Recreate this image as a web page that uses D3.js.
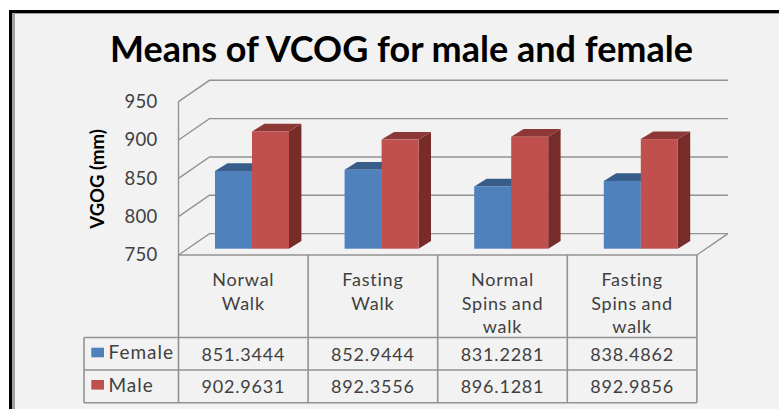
<!DOCTYPE html>
<html><head><meta charset="utf-8">
<script src="https://cdn.jsdelivr.net/npm/d3@7"></script>
<style>html,body{margin:0;padding:0;background:#fff}svg{display:block}text{font-family:Lato,sans-serif}</style>
</head><body><svg id="c" width="779" height="409"></svg>
<script>
const categories = [["Norwal","Walk"],["Fasting","Walk"],["Normal","Spins and","walk"],["Fasting","Spins and","walk"]];
const seriesNames = ["Female","Male"];
const female = [851.3444,852.9444,831.2281,838.4862];
const male = [902.9631,892.3556,896.1281,892.9856];
const yTicks = [750,800,850,900,950];
const frontColors = ["#4f81bd","#c0504d"];
const topColors = ["#385d8a","#8c3836"];
const sideColors = ["#2f4f75","#772c2a"];
const series = [female, male];

const svg = d3.select("#c");
const W=779,H=409, grid="#929292", txt="#404040";
// frame
svg.append("rect").attr("x",9).attr("y",10).attr("width",W-9).attr("height",H-10).attr("fill","#000");
svg.append("rect").attr("x",12).attr("y",13).attr("width",W-12).attr("height",H-13).attr("fill","#a0a0a0");
svg.append("rect").attr("x",15).attr("y",14).attr("width",W-15).attr("height",H-14).attr("fill","#f2f2f2");

const idx = d3.range(categories.length);
const x0 = d3.scaleBand().domain(idx).range([178.5,696.9]);
const x1 = d3.scaleBand().domain(d3.range(seriesNames.length)).range([36.5,110.5]);
const y = d3.scaleLinear().domain([750,950]).range([255,101.7]);
const wall = {dx:31,dy:-21.4}, barD = {dx:12.4,dy:-7.7}, barOff = {dx:0,dy:-6.3};
const gridRight = x0.range()[1]+wall.dx;

// gridlines
const g = svg.append("g").attr("fill","none").attr("stroke",grid).attr("stroke-width",1.4);
yTicks.forEach(t=>{
  g.append("path").attr("d",d3.line()([[x0.range()[0],y(t)],[x0.range()[0]+wall.dx,y(t)+wall.dy],[gridRight,y(t)+wall.dy]]));
});
g.append("path").attr("d",d3.line()([[x0.range()[1],y(750)],[gridRight,y(750)+wall.dy]]));
g.append("path").attr("d",d3.line()([[x0.range()[0],y(950)],[x0.range()[0],y(750)]]));

// bars
const bars = svg.append("g");
idx.forEach(i=>{
  series.forEach((s,k)=>{
    const l=x0(i)+x1(k), r=l+x1.bandwidth(), t=y(s[i])+barOff.dy, b=y(750)+barOff.dy;
    bars.append("path").attr("fill",sideColors[k]).attr("d",d3.line()([[r,t],[r+barD.dx,t+barD.dy],[r+barD.dx,b+barD.dy],[r,b]])+"Z");
    bars.append("path").attr("fill",topColors[k]).attr("d",d3.line()([[l,t],[l+barD.dx,t+barD.dy],[r+barD.dx,t+barD.dy],[r,t]])+"Z");
    bars.append("rect").attr("x",l).attr("y",t).attr("width",x1.bandwidth()).attr("height",b-t).attr("fill",frontColors[k]);
  });
});

// y axis labels
const ax = svg.append("g").attr("transform","translate(157.5,0)")
  .call(d3.axisLeft(y).tickValues(yTicks).tickSize(0).tickPadding(0));
ax.select(".domain").remove();
ax.selectAll("text").attr("font-size",18.5).attr("fill",txt).style("font-family","Lato,sans-serif").attr("letter-spacing",0.3);

// title
svg.append("text").attr("x",401.5).attr("y",62).attr("text-anchor","middle").attr("font-size",36).attr("font-weight",700).attr("fill","#000").text("Means of VCOG for male and female");
svg.append("text").attr("transform","translate(104,179) rotate(-90)").attr("text-anchor","middle").attr("font-size",18.5).attr("font-weight",700).attr("fill","#000").text("VGOG (mm)");

// data table
const rowY = [255,337.5,370,402.7], tableLeft = 84, xr = x0.range();
const t = svg.append("g").attr("fill","none").attr("stroke",grid).attr("stroke-width",1.6);
t.append("path").attr("d",d3.line()([[xr[0],rowY[0]],[xr[1],rowY[0]]]));
idx.concat(categories.length).forEach(i=>{
  const xx = i<categories.length? x0(i): xr[1];
  t.append("path").attr("d",d3.line()([[xx,rowY[0]],[xx,rowY[3]]]));
});
[1,2,3].forEach(r=>t.append("path").attr("d",d3.line()([[tableLeft,rowY[r]],[xr[1],rowY[r]]])));
t.append("path").attr("d",d3.line()([[tableLeft,rowY[1]],[tableLeft,rowY[3]]]));

const cell = svg.append("g").attr("text-anchor","middle").attr("fill",txt).attr("font-size",18).attr("letter-spacing",0.8);
idx.forEach(i=>{
  const cx = x0(i)+x0.bandwidth()/2;
  categories[i].forEach((ln,j)=>cell.append("text").attr("x",cx).attr("y",286+j*23.5).attr("word-spacing",-1).text(ln));
  series.forEach((s,k)=>cell.append("text").attr("x",cx).attr("y",360.5+k*32.3).text(s[i].toFixed(4)));
});
seriesNames.forEach((n,k)=>{
  const yy = 347.7+k*32.3;
  svg.append("rect").attr("x",91.3).attr("y",yy).attr("width",12.7).attr("height",9.6).attr("fill",frontColors[k]);
  svg.append("text").attr("x",108.5).attr("y",yy+11.5).attr("font-size",19).attr("letter-spacing",1).attr("fill",txt).text(n);
});
</script></body></html>
